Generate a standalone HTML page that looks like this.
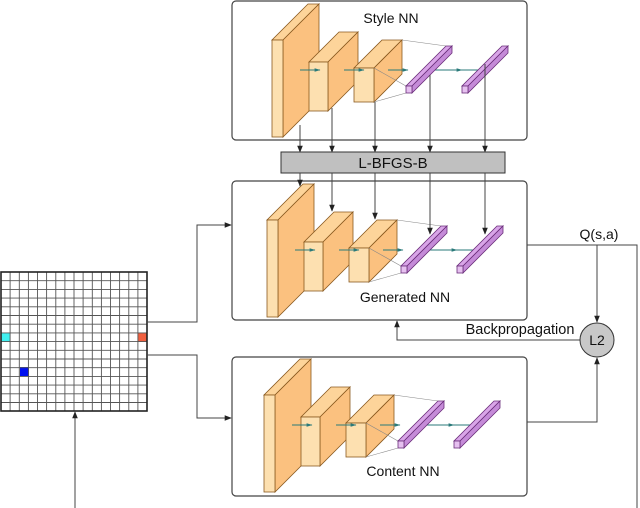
<!DOCTYPE html>
<html><head><meta charset="utf-8"><style>html,body{margin:0;padding:0;background:#fff}svg{display:block}text{font-family:"Liberation Sans",sans-serif;fill:#111}</style></head>
<body>
<svg width="640" height="508" viewBox="0 0 640 508" xmlns="http://www.w3.org/2000/svg">
<defs>
<marker id="ar" viewBox="0 0 10 10" refX="9" refY="5" markerWidth="7" markerHeight="7" orient="auto"><path d="M0,1 L10,5 L0,9 z" fill="#222"/></marker>
<marker id="ta" viewBox="0 0 10 10" refX="9" refY="5" markerWidth="6" markerHeight="6" orient="auto"><path d="M0,2 L10,5 L0,8 z" fill="#2a7a7a"/></marker>
<g id="net">
  <polygon points="272,40 283,40 319,4 308,4" fill="#fdd49a" stroke="#8a5a20" stroke-width="0.8"/>
  <polygon points="283,40 319,4 319,101 283,137" fill="#fbc17f" stroke="#8a5a20" stroke-width="0.8"/>
  <rect x="272" y="40" width="11" height="97" fill="#fde0b0" stroke="#8a5a20" stroke-width="0.8"/>
  <polygon points="309,62 328,62 358,32 339,32" fill="#fdd49a" stroke="#8a5a20" stroke-width="0.8"/>
  <polygon points="328,62 358,32 358,81 328,111" fill="#fbc17f" stroke="#8a5a20" stroke-width="0.8"/>
  <rect x="309" y="62" width="19" height="49" fill="#fde0b0" stroke="#8a5a20" stroke-width="0.8"/>
  <polygon points="354,68 374,68 402,40 382,40" fill="#fdd49a" stroke="#8a5a20" stroke-width="0.8"/>
  <polygon points="374,68 402,40 402,74 374,102" fill="#fbc17f" stroke="#8a5a20" stroke-width="0.8"/>
  <rect x="354" y="68" width="20" height="34" fill="#fde0b0" stroke="#8a5a20" stroke-width="0.8"/>
  <path d="M374,68 L406,86 M374,102 L406,93 M402,40 L446,46" stroke="#888" stroke-width="0.6" fill="none"/>
  <line x1="300" y1="70" x2="320" y2="70" stroke="#2a7a7a" stroke-width="1" marker-end="url(#ta)"/>
  <line x1="344" y1="70" x2="364" y2="70" stroke="#2a7a7a" stroke-width="1" marker-end="url(#ta)"/>
  <line x1="388" y1="70" x2="408" y2="70" stroke="#2a7a7a" stroke-width="1" marker-end="url(#ta)"/>
  <line x1="430" y1="70" x2="462" y2="70" stroke="#2a7a7a" stroke-width="1" marker-end="url(#ta)"/>
  <line x1="462" y1="70" x2="486" y2="70" stroke="#2a7a7a" stroke-width="1"/>
  <polygon points="406,86 412,86 452,46 446,46" fill="#d9a5e8" stroke="#6a2d7a" stroke-width="0.8"/>
  <polygon points="412,86 452,46 452,53 412,93" fill="#c58bd8" stroke="#6a2d7a" stroke-width="0.8"/>
  <rect x="406" y="86" width="6" height="7" fill="#e6c0f0" stroke="#6a2d7a" stroke-width="0.8"/>
  <polygon points="462,86 468,86 508,46 502,46" fill="#d9a5e8" stroke="#6a2d7a" stroke-width="0.8"/>
  <polygon points="468,86 508,46 508,53 468,93" fill="#c58bd8" stroke="#6a2d7a" stroke-width="0.8"/>
  <rect x="462" y="86" width="6" height="7" fill="#e6c0f0" stroke="#6a2d7a" stroke-width="0.8"/>
</g>
</defs>

<rect x="232" y="1" width="295" height="139" rx="4" fill="#fff" stroke="#444" stroke-width="1.2"/>
<rect x="232" y="181" width="295" height="139" rx="4" fill="#fff" stroke="#444" stroke-width="1.2"/>
<rect x="232" y="357" width="295" height="139" rx="4" fill="#fff" stroke="#444" stroke-width="1.2"/>

<use href="#net"/>
<use href="#net" transform="translate(-5,180)"/>
<use href="#net" transform="translate(-8,355)"/>

<text x="391" y="23" font-size="14" text-anchor="middle">Style NN</text>
<text x="405" y="302" font-size="14" text-anchor="middle">Generated NN</text>
<text x="403" y="476" font-size="14" text-anchor="middle">Content NN</text>

<g stroke="#444" stroke-width="1" fill="none" marker-end="url(#ar)">
<line x1="300" y1="125" x2="300" y2="152"/>
<line x1="332" y1="108" x2="332" y2="152"/>
<line x1="375" y1="102" x2="375" y2="152"/>
<line x1="430" y1="75" x2="430" y2="152"/>
<line x1="485" y1="64" x2="485" y2="152"/>
</g>
<rect x="281" y="152" width="224" height="21" fill="#c0c0c0" stroke="#333" stroke-width="1"/>
<text x="393" y="168" font-size="15" text-anchor="middle">L-BFGS-B</text>
<g stroke="#444" stroke-width="1" fill="none" marker-end="url(#ar)">
<line x1="300" y1="173" x2="300" y2="186"/>
<line x1="332" y1="173" x2="332" y2="211"/>
<line x1="375" y1="173" x2="375" y2="219"/>
<line x1="430" y1="173" x2="430" y2="234"/>
<line x1="485" y1="173" x2="485" y2="234"/>
</g>

<g>
<rect x="1" y="272" width="146" height="139" fill="#fff"/>
<rect x="1" y="333" width="9" height="8.7" fill="#40f0f0"/>
<rect x="138" y="333" width="9" height="8.7" fill="#f06040"/>
<rect x="20" y="367" width="9" height="9" fill="#0010f0"/>
<g stroke="#555" stroke-width="0.9">
<line x1="10.1" y1="272" x2="10.1" y2="411"/><line x1="19.3" y1="272" x2="19.3" y2="411"/><line x1="28.4" y1="272" x2="28.4" y2="411"/><line x1="37.5" y1="272" x2="37.5" y2="411"/><line x1="46.6" y1="272" x2="46.6" y2="411"/><line x1="55.8" y1="272" x2="55.8" y2="411"/><line x1="64.9" y1="272" x2="64.9" y2="411"/><line x1="74" y1="272" x2="74" y2="411"/><line x1="83.1" y1="272" x2="83.1" y2="411"/><line x1="92.3" y1="272" x2="92.3" y2="411"/><line x1="101.4" y1="272" x2="101.4" y2="411"/><line x1="110.5" y1="272" x2="110.5" y2="411"/><line x1="119.6" y1="272" x2="119.6" y2="411"/><line x1="128.8" y1="272" x2="128.8" y2="411"/><line x1="137.9" y1="272" x2="137.9" y2="411"/>
<line y1="280.7" x1="1" y2="280.7" x2="147"/><line y1="289.4" x1="1" y2="289.4" x2="147"/><line y1="298.1" x1="1" y2="298.1" x2="147"/><line y1="306.8" x1="1" y2="306.8" x2="147"/><line y1="315.5" x1="1" y2="315.5" x2="147"/><line y1="324.2" x1="1" y2="324.2" x2="147"/><line y1="332.9" x1="1" y2="332.9" x2="147"/><line y1="341.6" x1="1" y2="341.6" x2="147"/><line y1="350.3" x1="1" y2="350.3" x2="147"/><line y1="359" x1="1" y2="359" x2="147"/><line y1="367.7" x1="1" y2="367.7" x2="147"/><line y1="376.4" x1="1" y2="376.4" x2="147"/><line y1="385.1" x1="1" y2="385.1" x2="147"/><line y1="393.8" x1="1" y2="393.8" x2="147"/><line y1="402.5" x1="1" y2="402.5" x2="147"/>
</g>
<rect x="1" y="272" width="146" height="139" fill="none" stroke="#222" stroke-width="1.6"/>
</g>

<g stroke="#444" stroke-width="1" fill="none">
<path d="M147,322 H197 V225 H231" marker-end="url(#ar)"/>
<path d="M147,355 H197 V418 H231" marker-end="url(#ar)"/>
<path d="M75,508 V412" marker-end="url(#ar)"/>
<path d="M527,245 H637 V508"/>
<path d="M597,245 V322" marker-end="url(#ar)"/>
<path d="M527,422 H597 V358" marker-end="url(#ar)"/>
<path d="M580,340 H397 V321" marker-end="url(#ar)"/>
</g>
<circle cx="597" cy="340" r="17" fill="#c8c8c8" stroke="#333" stroke-width="1"/>
<text x="597" y="345" font-size="14" text-anchor="middle">L2</text>
<text x="599" y="239" font-size="14" text-anchor="middle">Q(s,a)</text>
<text x="520" y="334" font-size="14.5" text-anchor="middle">Backpropagation</text>
</svg>
</body></html>
